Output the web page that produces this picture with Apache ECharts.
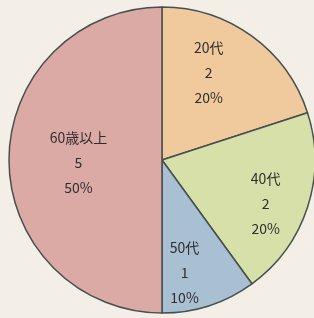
<!DOCTYPE html>
<html><head><meta charset="utf-8">
<script src="https://cdn.jsdelivr.net/npm/echarts@6/dist/echarts.min.js"></script>
<style>html,body{margin:0;padding:0;background:#f4efe6;}#c{width:314px;height:318px;}</style>
</head><body><div id="c"></div>
<script>
const categories = ['20代', '40代', '50代', '60歳以上'];
const counts = [2, 2, 1, 5];
const percents = ['20%', '20%', '10%', '50%'];
const colors = ['#f0c99c', '#d8e0aa', '#a9bfd2', '#dcaaa5'];
const labelOffsets = [[0, -23], [28, 19], [-2, 37], [-4, 3]];

const chart = echarts.init(document.getElementById('c'));
chart.setOption({
  backgroundColor: '#f4efe6',
  animation: false,
  series: [{
    type: 'pie',
    center: [162, 160],
    radius: [0, 153],
    startAngle: 90,
    clockwise: true,
    label: {
      position: 'inside',
      fontFamily: '"Noto Sans CJK JP", sans-serif',
      fontSize: 14,
      lineHeight: 25,
      color: '#2e2e2e',
      formatter: p => categories[p.dataIndex] + '\n' + counts[p.dataIndex] + '\n' + percents[p.dataIndex]
    },
    labelLine: { show: false },
    itemStyle: { borderColor: '#465050', borderWidth: 1.5 },
    data: categories.map((c, i) => ({
      name: c, value: counts[i],
      itemStyle: { color: colors[i] },
      label: { offset: labelOffsets[i] }
    }))
  }]
});
</script></body></html>
